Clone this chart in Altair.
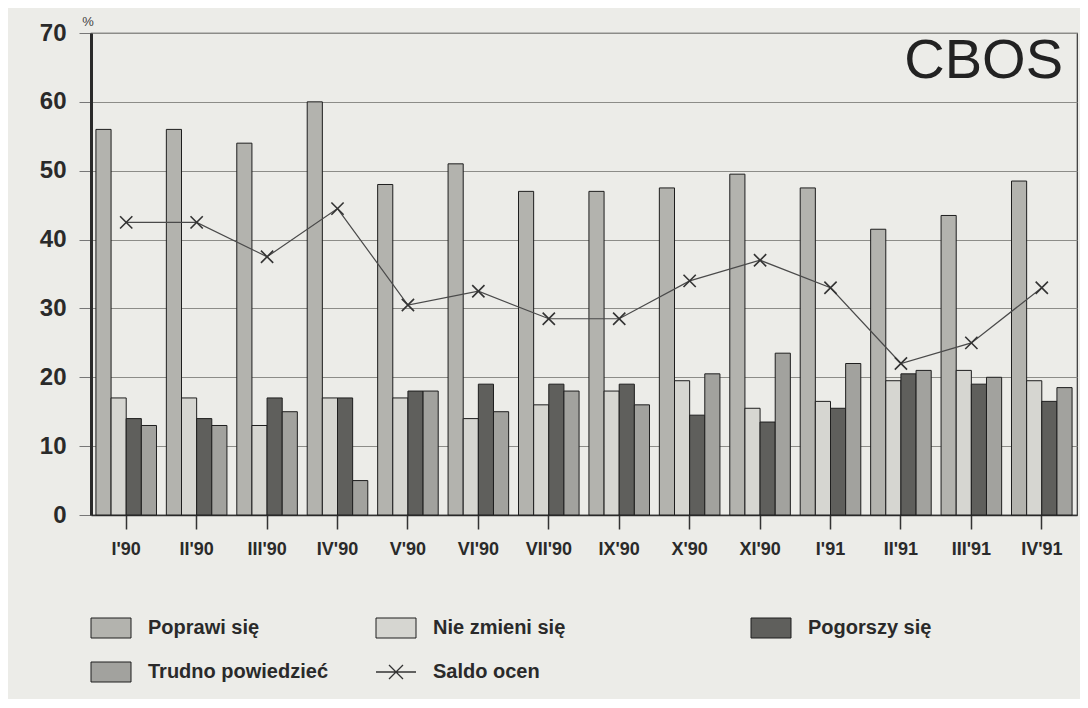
import altair as alt
import pandas as pd

categories = ["I'90", "II'90", "III'90", "IV'90", "V'90", "VI'90", "VII'90",
              "IX'90", "X'90", "XI'90", "I'91", "II'91", "III'91", "IV'91"]
series = ["Poprawi się", "Nie zmieni się", "Pogorszy się", "Trudno powiedzieć"]
poprawi = [56, 56, 54, 60, 48, 51, 47, 47, 47.5, 49.5, 47.5, 41.5, 43.5, 48.5]
nie_zmieni = [17, 17, 13, 17, 17, 14, 16, 18, 19.5, 15.5, 16.5, 19.5, 21, 19.5]
pogorszy = [14, 14, 17, 17, 18, 19, 19, 19, 14.5, 13.5, 15.5, 20.5, 19, 16.5]
trudno = [13, 13, 15, 5, 18, 15, 18, 16, 20.5, 23.5, 22, 21, 20, 18.5]
saldo = [42.5, 42.5, 37.5, 44.5, 30.5, 32.5, 28.5, 28.5, 34, 37, 33, 22, 25, 33]
saldo_label = "Saldo ocen"
y_ticks = [0, 10, 20, 30, 40, 50, 60, 70]

fills = ["#b3b3ae", "#d6d6d1", "#5f5f5c", "#a2a29e"]
BG = "#ecece8"
FONT = "Liberation Sans"
INK = "#2a2a2a"

rows = []
for i, c in enumerate(categories):
    for s, vals in zip(series, [poprawi, nie_zmieni, pogorszy, trudno]):
        rows.append({"okres": c, "seria": s, "wartosc": vals[i]})
bars_df = pd.DataFrame(rows)
saldo_df = pd.DataFrame({"okres": categories, "saldo": saldo})

W, H = 986, 482

x_enc = alt.X(
    "okres:N", sort=categories,
    scale=alt.Scale(paddingInner=0.14, paddingOuter=0.07),
    axis=alt.Axis(title=None, labelAngle=0, labelFont=FONT, labelFontSize=18,
                  labelFontWeight="bold", labelColor=INK, tickSize=14,
                  tickColor="#333333", tickWidth=1.5, labelPadding=11,
                  domainColor="#333333", domainWidth=1.5, grid=False))
y_enc = alt.Y(
    "wartosc:Q", scale=alt.Scale(domain=[0, 70], nice=False),
    axis=alt.Axis(title=None, values=y_ticks, labelFont=FONT, labelFontSize=24,
                  labelFontWeight="bold", labelColor=INK, tickSize=12,
                  tickColor="#777777", labelPadding=13, domainColor="#2a2a2a",
                  domainWidth=3, grid=True, gridColor="#8c8c88", gridWidth=1))

bars = alt.Chart(bars_df).mark_bar(stroke="#1e1e1e", strokeWidth=1).encode(
    x=x_enc,
    xOffset=alt.XOffset("seria:N", sort=series,
                        scale=alt.Scale(paddingInner=0, paddingOuter=0)),
    y=y_enc,
    fill=alt.Fill("seria:N", scale=alt.Scale(domain=series, range=fills), legend=None),
)

line = alt.Chart(saldo_df).mark_line(color="#4a4a4a", strokeWidth=1.2).encode(
    x=alt.X("okres:N", sort=categories),
    y=alt.Y("saldo:Q"),
)
pts = alt.Chart(saldo_df).mark_point(
    shape="M-1,-1L1,1M-1,1L1,-1", size=150, filled=False, color="#333333",
    strokeWidth=1.6, opacity=1).encode(
    x=alt.X("okres:N", sort=categories),
    y=alt.Y("saldo:Q"),
)

text_df = pd.DataFrame({"t": ["CBOS"], "pct": ["%"]})
cbos = alt.Chart(text_df).mark_text(
    font=FONT, fontSize=56, align="right", baseline="alphabetic", color="#222222"
).encode(text="t:N", x=alt.value(W - 14), y=alt.value(45))
pct = alt.Chart(text_df).mark_text(
    font=FONT, fontSize=13, align="center", baseline="bottom", color="#444444"
).encode(text="pct:N", x=alt.value(-3), y=alt.value(-4))

main = alt.layer(bars, line, pts, cbos, pct).properties(
    width=W, height=H,
    view=alt.ViewBackground(stroke="#333333", strokeWidth=1.2),
)

# legend panel
legend_labels = series + [saldo_label]
leg_df = pd.DataFrame({"label": legend_labels, "col": [0, 1, 2, 0, 1], "row": [0, 0, 0, 1, 1]})
lx = alt.X("col:Q", axis=None, scale=alt.Scale(domain=[0, 1, 2], range=[20, 305, 680]))
ly = alt.Y("row:Q", axis=None, scale=alt.Scale(domain=[0, 1], range=[54, 98]))

swatches = alt.Chart(leg_df).transform_filter(
    alt.datum.label != saldo_label
).mark_point(shape="M-1,-0.5H1V0.5H-1Z", size=1600, filled=True,
             stroke="#1e1e1e", strokeWidth=1, opacity=1).encode(
    x=lx, y=ly,
    fill=alt.Fill("label:N", scale=alt.Scale(domain=series, range=fills), legend=None),
)
saldo_sym = alt.Chart(leg_df).transform_filter(
    alt.datum.label == saldo_label
).mark_point(shape="M-1,0H1M-0.35,-0.35L0.35,0.35M-0.35,0.35L0.35,-0.35",
             size=1600, filled=False, color="#333333", strokeWidth=1.3, opacity=1).encode(
    x=lx, y=ly,
)
leg_text = alt.Chart(leg_df).mark_text(
    font=FONT, fontSize=20, fontWeight="bold", align="left", baseline="middle",
    dx=37, color=INK
).encode(x=lx, y=ly, text="label:N")

legend = alt.layer(swatches, saldo_sym, leg_text).properties(
    width=W, height=124,
    view=alt.ViewBackground(stroke="transparent"),
)

chart = alt.vconcat(main, legend, spacing=14).properties(
    padding={"left": 30, "top": 7, "right": 2, "bottom": 0},
    background=BG,
).configure_view(stroke="transparent")

chart.save("out.html", embed_options={"renderer": "svg", "actions": False})
